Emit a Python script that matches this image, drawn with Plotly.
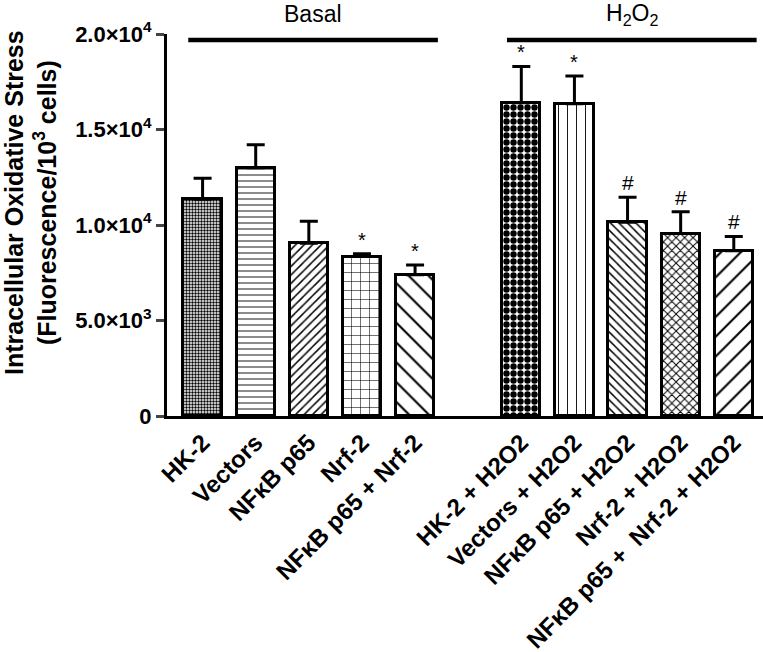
import plotly.graph_objects as go

basal_labels = ["HK-2", "Vectors", "NFκB p65", "Nrf-2", "NFκB p65 + Nrf-2"]
h2o2_labels = ["HK-2 + H2O2", "Vectors + H2O2", "NFκB p65 + H2O2", "Nrf-2 + H2O2", "NFκB p65 + \u00a0Nrf-2 + H2O2"]
basal_values = [11350, 13000, 9050, 8350, 7400]
basal_err_top = [12450, 14200, 10200, 8500, 7900]
h2o2_values = [16400, 16350, 10150, 9550, 8650]
h2o2_err_top = [18300, 17800, 11450, 10700, 9400]
basal_marks = ["", "", "", "*", "*"]
h2o2_marks = ["*", "*", "#", "#", "#"]
y_tickvals = [0, 5000, 10000, 15000, 20000]
y_ticktext = ["0", "5.0×10<sup>3</sup>", "1.0×10<sup>4</sup>", "1.5×10<sup>4</sup>", "2.0×10<sup>4</sup>"]
y_title_lines = ["Intracellular Oxidative Stress", "(Fluorescence/10<sup>3</sup> cells)"]

labels = basal_labels + h2o2_labels
values = basal_values + h2o2_values
err_top = basal_err_top + h2o2_err_top
marks = basal_marks + h2o2_marks
xpos = list(range(len(basal_labels))) + [len(basal_labels) + 1 + i for i in range(len(h2o2_labels))]

shapes_pat = [".", "-", "/", "+", "\\", ".", "|", "\\", "x", "/"]
sizes_pat = [3, 6, 6, 9, 14, 7, 9, 6, 6, 14]
solid_pat = [0.5, 0.15, 0.25, 0.12, 0.15, 0.65, 0.1, 0.25, 0.3, 0.15]

fig = go.Figure()
fig.add_trace(go.Bar(
    x=xpos, y=values, width=0.72,
    marker=dict(color="white", line=dict(color="black", width=3),
                pattern=dict(shape=shapes_pat, size=sizes_pat, solidity=solid_pat,
                             fgcolor="black", bgcolor="white", fillmode="replace")),
    error_y=dict(type="data", symmetric=False,
                 array=[e - v for e, v in zip(err_top, values)],
                 arrayminus=[0] * len(values),
                 color="black", thickness=3, width=9),
    showlegend=False,
))

for x, e, m in zip(xpos, err_top, marks):
    if m:
        fig.add_annotation(x=x, y=e, text=m, showarrow=False, yanchor="bottom", yshift=1,
                           font=dict(family="Liberation Sans", size=21 if m == "#" else 20, color="black"))

groups = [("Basal", xpos[0], xpos[len(basal_labels) - 1]),
          ("H<sub>2</sub>O<sub>2</sub>", xpos[len(basal_labels)], xpos[-1])]
for name, a, b in groups:
    x0, x1 = a - 0.27, b + 0.43
    fig.add_shape(type="line", xref="x", yref="paper", x0=x0, x1=x1, y0=0.984, y1=0.984,
                  line=dict(color="black", width=4.5))
    fig.add_annotation(x=(x0 + x1) / 2, xref="x", y=1.052, yref="paper", text=name, showarrow=False,
                       xanchor="center", yanchor="middle",
                       font=dict(family="Liberation Sans", size=23, color="black"))

fig.add_annotation(x=-0.228, xref="paper", y=0.558, yref="paper",
                   text="<br>".join("<b>%s</b>" % l for l in y_title_lines),
                   textangle=-90, showarrow=False, xanchor="center", yanchor="middle",
                   font=dict(family="Liberation Sans", size=25, color="black"))

fig.update_layout(
    width=763, height=652, margin=dict(l=167, r=0, t=34, b=236),
    plot_bgcolor="white", paper_bgcolor="white",
    font=dict(family="Liberation Sans", color="black"),
    bargap=0,
)
fig.update_xaxes(range=[-0.67, 10.55], tickvals=xpos, ticktext=["<b>%s</b>" % l for l in labels],
                 tickangle=-45, tickfont=dict(size=24, family="Liberation Sans"),
                 showline=True, linecolor="black", linewidth=3, ticks="", showgrid=False, zeroline=False)
fig.update_yaxes(range=[0, 20000], tickvals=y_tickvals, ticktext=["<b>%s</b>" % t for t in y_ticktext],
                 tickfont=dict(size=22, family="Liberation Sans"),
                 showline=True, linecolor="black", linewidth=3, ticks="outside", ticklen=8, tickwidth=3,
                 showgrid=False, zeroline=False)

fig.write_html("out.html", config={"displayModeBar": False},
               post_script="document.body.style.margin='0';document.body.style.overflow='hidden';")
